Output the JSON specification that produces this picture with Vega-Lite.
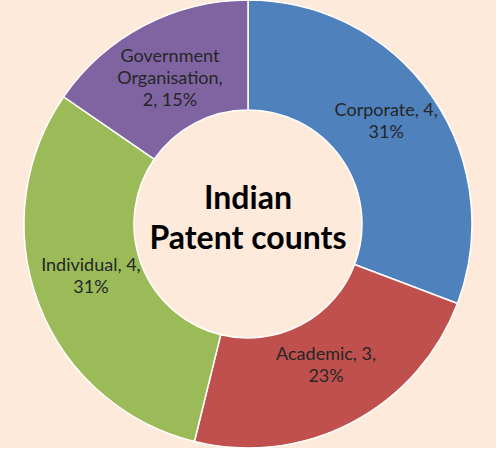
{
  "$schema": "https://vega.github.io/schema/vega-lite/v6.json",
  "width": 496,
  "height": 448,
  "padding": 0,
  "autosize": "none",
  "background": "#FDEADA",
  "data": {
    "values": [
      {"idx": 1, "category": "Corporate", "count": 4, "label": ["Corporate, 4,", "31%"]},
      {"idx": 2, "category": "Academic", "count": 3, "label": ["Academic, 3,", "23%"]},
      {"idx": 3, "category": "Individual", "count": 4, "label": ["Individual, 4,", "31%"]},
      {"idx": 4, "category": "Government Organisation", "count": 2, "label": ["Government", "Organisation,", "2, 15%"]}
    ]
  },
  "encoding": {
    "theta": {"field": "count", "type": "quantitative", "stack": true},
    "order": {"field": "idx", "type": "quantitative"}
  },
  "layer": [
    {
      "mark": {"type": "arc", "outerRadius": 224, "innerRadius": 114, "stroke": "#FFFFFF", "strokeWidth": 1.5},
      "encoding": {
        "color": {
          "field": "category",
          "type": "nominal",
          "scale": {
            "domain": ["Corporate", "Academic", "Individual", "Government Organisation"],
            "range": ["#4F81BD", "#C0504D", "#9BBB59", "#8064A2"]
          },
          "legend": null
        }
      }
    },
    {
      "mark": {"type": "text", "radius": 168, "font": "Lato", "fontSize": 18, "color": "#262626", "lineHeight": 22, "align": "center", "baseline": "middle", "dy": -18},
      "encoding": {
        "text": {"field": "label"}
      }
    },
    {
      "data": {"values": [{"t": ["Indian", "Patent counts"]}]},
      "mark": {"type": "text", "font": "Lato", "fontSize": 32, "fontWeight": "bold", "color": "#000000", "lineHeight": 40, "align": "center", "baseline": "middle", "dy": -25},
      "encoding": {
        "theta": null,
        "order": null,
        "text": {"field": "t"}
      }
    }
  ]
}
